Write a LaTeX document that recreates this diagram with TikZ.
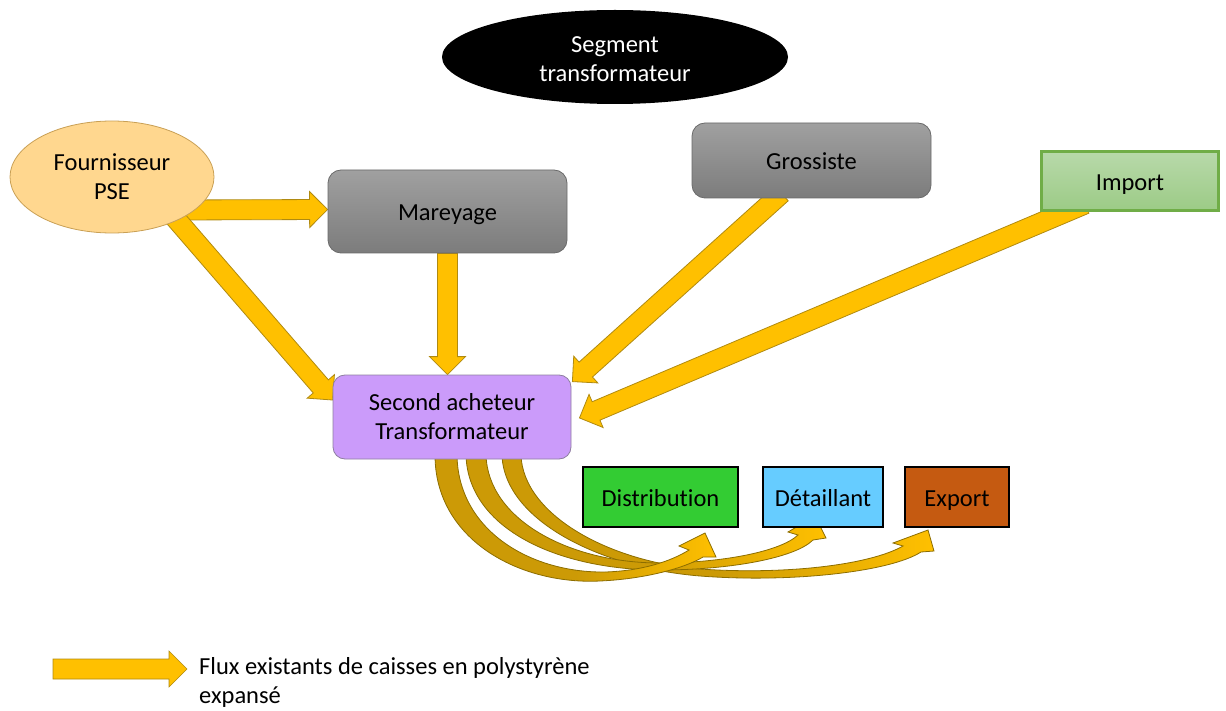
\documentclass[tikz,border=0pt]{standalone}
\usepackage{fontspec}
\setmainfont{Carlito}[Ligatures=NoCommon]
\usetikzlibrary{shapes.geometric,calc}
\pgfdeclarelayer{background}
\pgfsetlayers{background,main}
\definecolor{arrowfill}{HTML}{FFC000}
\definecolor{arrowline}{HTML}{B08A10}
\definecolor{curvedark}{HTML}{CC9A06}
\definecolor{curveline}{HTML}{8C6D00}
\definecolor{fournfill}{HTML}{FFD78F}
\definecolor{fournline}{HTML}{C9A055}
\definecolor{graytop}{HTML}{A0A0A0}
\definecolor{graybot}{HTML}{7C7C7C}
\definecolor{grayline}{HTML}{6A6A6A}
\definecolor{importtop}{HTML}{B8D9AA}
\definecolor{importbot}{HTML}{9CCB86}
\definecolor{importline}{HTML}{70AD47}
\definecolor{secfill}{HTML}{CB9BFA}
\definecolor{secline}{HTML}{8E7FA0}
\definecolor{distgreen}{HTML}{33CC33}
\definecolor{detblue}{HTML}{66CCFF}
\definecolor{exportbrown}{HTML}{C55A11}
\newcommand\blockarrow[3][]{%
  \path (#2); \pgfgetlastxy{\bax}{\bay}%
  \path (#3); \pgfgetlastxy{\bbx}{\bby}%
  \pgfmathsetmacro\baang{atan2(\bby-\bay,\bbx-\bax)}%
  \pgfmathsetmacro\balen{veclen(\bbx-\bax,\bby-\bay)}%
  \begin{scope}[shift={(#2)},rotate=\baang]
    \draw[flow,#1] (0,-10) -- ({\balen-18},-10) -- ({\balen-18},-18) -- (\balen,0)
      -- ({\balen-18},18) -- ({\balen-18},10) -- (0,10) -- cycle;
  \end{scope}}
\begin{document}
\begin{tikzpicture}[x=1pt,y=-1pt,
  every node/.style={font=\fontsize{24.5}{29}\selectfont, align=center, inner sep=0pt},
  oneline/.style={text height=20pt, text depth=1pt},
  flow/.style={fill=arrowfill, draw=arrowline, line width=0.8pt},
  curveflow/.style={left color=curvedark, right color=arrowfill, middle color=curvedark, draw=curveline, line width=0.8pt},
  graybox/.style={oneline, rounded corners=13pt, top color=graytop, bottom color=graybot, draw=grayline, line width=0.8pt},
  destbox/.style={oneline, draw=black, line width=1.5pt},
]
\useasboundingbox (0,0) rectangle (1226,711);

\node[ellipse, fill=black, minimum width=346pt, minimum height=94pt] (seg) at (615,57) {};
\node[text=white] (segtext) at ($(seg.center)+(0,2)$) {Segment\\transformateur};
\node[ellipse, fill=fournfill, draw=fournline, line width=0.8pt, minimum width=204pt, minimum height=112pt] (fourn) at (112,177) {Fournisseur\\PSE};
\node[graybox, minimum width=239pt, minimum height=83pt] (mar) at (447.5,211.5) {Mareyage};
\node[graybox, minimum width=239pt, minimum height=75pt] (gros) at (811.5,160.5) {Grossiste};
\node[oneline, top color=importtop, bottom color=importbot, draw=importline, line width=3pt, minimum width=177pt, minimum height=59pt] (imp) at (1130,181) {Import};
\node[rounded corners=12pt, fill=secfill, draw=secline, line width=0.8pt, minimum width=238pt, minimum height=84pt] (sec) at (452,417) {Second acheteur\\Transformateur};
\node[destbox, fill=distgreen, minimum width=155pt, minimum height=60pt] (dist) at (660.5,497) {Distribution};
\node[destbox, fill=detblue, minimum width=120pt, minimum height=60pt] (det) at (823,497) {Détaillant};
\node[destbox, fill=exportbrown, minimum width=104pt, minimum height=60pt] (exp) at (957,497) {Export};

\node[anchor=west, align=left] (legtext) at (199,682.5) {Flux existants de caisses en polystyrène\\expansé};
\coordinate (legA) at (53,669);
\coordinate (legB) at ($(legtext.west |- legA)+(-12,0)$);

\begin{pgfonlayer}{background}
  \blockarrow{$(fourn.center)+(65,33)$}{$(mar.west)+(0,-2)$}
  \blockarrow{$(fourn.center)+(45,20)$}{$(sec.west)+(0,-17)$}
  \blockarrow{mar.south}{mar.south |- sec.north}
  \blockarrow{$(gros.south)+(-30,-5)$}{$(sec.north east)+(1,7)$}
  \blockarrow{$(imp.south west)+(45,-8)$}{$(sec.east)+(8,1)$}
  \blockarrow[line width=0.6pt]{legA}{legB}
  % curved flows to the three outlets
  \draw[curveflow] (502,455) .. controls (504,520) and (600,568) .. (700,576)
    .. controls (790,583) and (890,572) .. (921,552) -- (934,551) -- (928,530) -- (893,543) -- (903,546)
    .. controls (870,565) and (785,575) .. (700,569)
    .. controls (610,562) and (523,515) .. (521,455) -- cycle;
  \draw[curveflow] (466,455) .. controls (468,530) and (560,570) .. (660,570)
    .. controls (730,570) and (795,558) .. (813,540) -- (826,538) -- (815,516) -- (788,532) -- (798,535)
    .. controls (780,552) and (720,563) .. (660,563)
    .. controls (570,563) and (488,520) .. (486,455) -- cycle;
  \draw[curveflow] (435,455) .. controls (435,540) and (520,585) .. (600,581)
    .. controls (645,579) and (685,568) .. (703,557) -- (716,557) -- (705,533) -- (679,546) -- (689,550)
    .. controls (670,562) and (640,571) .. (605,572)
    .. controls (530,573) and (458,530) .. (457,455) -- cycle;
\end{pgfonlayer}
\end{tikzpicture}
\end{document}
